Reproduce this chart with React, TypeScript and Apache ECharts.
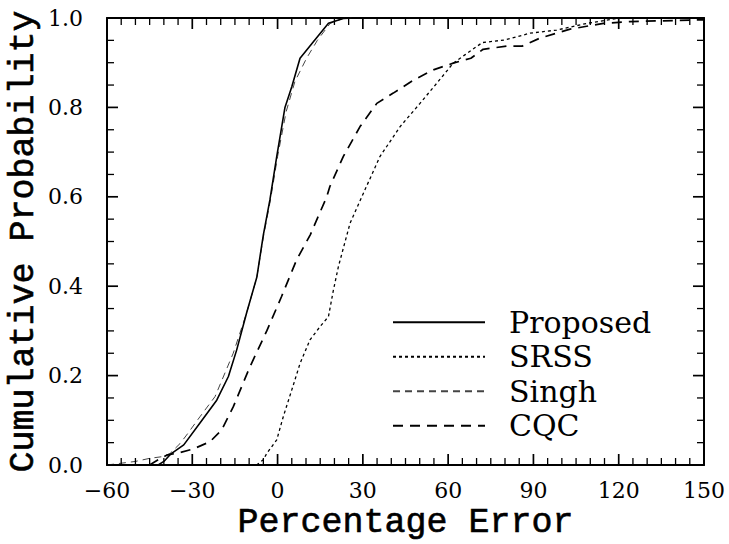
import React, { useEffect, useRef } from "react";
import * as echarts from "echarts";

// Percentage error (x) vs cumulative probability (y)
const proposed: [number, number][] = [
  [-42, 0], [-40, 0.008], [-37.5, 0.025], [-33, 0.045], [-27.3, 0.094], [-21.4, 0.145],
  [-17.3, 0.198], [-14.4, 0.257], [-10.9, 0.34], [-7.3, 0.42], [-5, 0.515], [-2.7, 0.593],
  [-0.3, 0.69], [2.6, 0.8], [5, 0.846], [7.9, 0.91], [12.6, 0.947], [17.9, 0.988],
  [23.1, 0.999], [27, 1.0],
];

const srss: [number, number][] = [
  [-7.4, 0], [-5, 0.012], [-3.8, 0.026], [-0.3, 0.056], [2, 0.108], [5, 0.168], [7.9, 0.227],
  [11.4, 0.28], [15, 0.31], [17.9, 0.332], [19.6, 0.39], [21.4, 0.444], [25.5, 0.541],
  [30.2, 0.608], [36, 0.69], [43.1, 0.757], [50.1, 0.809], [56, 0.854], [61.8, 0.899],
  [66, 0.918], [72, 0.945], [80, 0.951], [88.8, 0.966], [98.2, 0.973], [108.8, 0.988],
  [119.3, 0.999], [150, 1.0],
];

const singh: [number, number][] = [
  [-60, 0], [-50, 0.008], [-44.9, 0.015], [-40.2, 0.019], [-37.8, 0.026], [-34.3, 0.048],
  [-32, 0.067], [-27.3, 0.108], [-22, 0.153], [-15.6, 0.25], [-10.9, 0.34], [-7.3, 0.42],
  [-5, 0.51], [-2.5, 0.593], [0, 0.69], [3, 0.79], [6.1, 0.858], [10.2, 0.91], [14, 0.95],
  [18.5, 0.988], [23, 0.999], [26, 1.0],
];

const cqc: [number, number][] = [
  [-45, 0], [-42, 0.012], [-39, 0.022], [-34.3, 0.028], [-29.6, 0.036], [-23.8, 0.052],
  [-19.7, 0.078], [-15.6, 0.13], [-9.7, 0.22], [-3.8, 0.3], [1.4, 0.377], [6.7, 0.459],
  [11.5, 0.515], [17.3, 0.6], [18.4, 0.623], [23.1, 0.69], [29, 0.757], [34.9, 0.809],
  [40.7, 0.832], [47.8, 0.861], [54.8, 0.884], [61.8, 0.899], [68, 0.91], [72.3, 0.93],
  [80.5, 0.937], [86, 0.937], [92.3, 0.955], [102.9, 0.975], [114.6, 0.988], [124, 0.992],
  [150, 0.996],
];

const seriesNames = ["Proposed", "SRSS", "Singh", "CQC"];

// axis ticks
const xMajorTicks = [-60, -30, 0, 30, 60, 90, 120, 150];
const xMinorPerMajor = 6;
const yMajorTicks = [0, 0.2, 0.4, 0.6, 0.8, 1.0];
const yMinorPerMajor = 4;

const xRange = { min: -60, max: 150, interval: 30 };
const yRange = { min: 0, max: 1, interval: 0.2 };

export default function App() {
  const ref = useRef<HTMLDivElement>(null);

  useEffect(() => {
    const chart = echarts.init(ref.current!, null, { renderer: "svg" });
    const serif = "'DejaVu Serif', serif";
    const mono = "'Liberation Mono', monospace";
    const black = "#000";

    // Each tick mark is its own two-point line in data units (inside, on all four sides).
    // Tick length: major ~11px, minor ~7px; plot is ~597px wide for 210 units, ~447px tall for 1 unit.
    const xUnitsPerPx = (xRange.max - xRange.min) / 597;
    const yUnitsPerPx = (yRange.max - yRange.min) / 447;
    const tickSeries: any[] = [];
    const addTick = (a: number[], b: number[], major: boolean) =>
      tickSeries.push({
        type: "line",
        data: [a, b],
        symbol: "none",
        clip: false,
        z: 6,
        itemStyle: { color: black },
        lineStyle: { color: black, width: major ? 1.7 : 1.3, type: "solid" },
        tooltip: { show: false },
      });
    const eachTick = (majors: number[], per: number, fn: (v: number, major: boolean) => void) => {
      majors.forEach((m, i) => {
        fn(m, true);
        if (i < majors.length - 1) {
          const step = (majors[i + 1] - m) / per;
          for (let k = 1; k < per; k++) fn(m + step * k, false);
        }
      });
    };
    eachTick(xMajorTicks, xMinorPerMajor, (v, major) => {
      const len = (major ? 11 : 7) * yUnitsPerPx;
      addTick([v, yRange.min], [v, yRange.min + len], major);
      addTick([v, yRange.max], [v, yRange.max - len], major);
    });
    eachTick(yMajorTicks, yMinorPerMajor, (v, major) => {
      const len = (major ? 11 : 7) * xUnitsPerPx;
      addTick([xRange.min, v], [xRange.min + len, v], major);
      addTick([xRange.max, v], [xRange.max - len, v], major);
    });

    const lineAxis = { show: true, onZero: false, lineStyle: { color: black, width: 2 } };
    const titleStyle = {
      fontFamily: mono,
      fontSize: 35,
      color: black,
      textBorderColor: black,
      textBorderWidth: 0.6,
    };

    chart.setOption({
      animation: false,
      backgroundColor: "#fff",
      grid: {
        left: 107,
        top: 18,
        right: 25,
        bottom: 79,
        containLabel: false,
        outerBoundsMode: "none",
      },
      xAxis: [
        {
          type: "value",
          ...xRange,
          position: "bottom",
          axisLine: lineAxis,
          axisTick: { show: false },
          splitLine: { show: false },
          axisLabel: {
            fontFamily: serif,
            fontSize: 22,
            color: black,
            margin: 14,
            formatter: (v: number) => String(v).replace("-", "\u2212"),
          },
          name: "Percentage Error",
          nameLocation: "middle",
          nameGap: 40,
          nameMoveOverlap: false,
          nameTextStyle: titleStyle,
        },
        {
          type: "value",
          ...xRange,
          position: "top",
          axisLine: lineAxis,
          axisTick: { show: false },
          splitLine: { show: false },
          axisLabel: { show: false },
        },
      ],
      yAxis: [
        {
          type: "value",
          ...yRange,
          position: "left",
          axisLine: lineAxis,
          axisTick: { show: false },
          splitLine: { show: false },
          axisLabel: {
            fontFamily: serif,
            fontSize: 22,
            color: black,
            margin: 24,
            formatter: (v: number) => v.toFixed(1),
          },
          name: "Cumulative Probability",
          nameLocation: "middle",
          nameGap: 66,
          nameMoveOverlap: false,
          nameTextStyle: titleStyle,
        },
        {
          type: "value",
          ...yRange,
          position: "right",
          axisLine: lineAxis,
          axisTick: { show: false },
          splitLine: { show: false },
          axisLabel: { show: false },
        },
      ],
      legend: {
        orient: "vertical",
        left: 392,
        top: 305,
        itemWidth: 92,
        itemHeight: 14,
        itemGap: 0,
        padding: 0,
        data: seriesNames,
        itemStyle: { opacity: 0 },
        textStyle: {
          fontFamily: serif,
          fontSize: 30,
          color: black,
          lineHeight: 34.5,
          padding: [0, 0, 0, 19],
        },
      },
      series: [
        {
          name: seriesNames[0],
          type: "line",
          data: proposed,
          symbol: "none",
          itemStyle: { color: black },
          lineStyle: { color: black, width: 1.6, type: "solid" },
          z: 5,
        },
        {
          name: seriesNames[1],
          type: "line",
          data: srss,
          symbol: "none",
          itemStyle: { color: black },
          lineStyle: { color: black, width: 1.3, type: [3, 3] },
        },
        {
          name: seriesNames[2],
          type: "line",
          data: singh,
          symbol: "none",
          itemStyle: { color: "#444" },
          lineStyle: { color: "#444", width: 1, type: [7, 5] },
        },
        {
          name: seriesNames[3],
          type: "line",
          data: cqc,
          symbol: "none",
          itemStyle: { color: black },
          lineStyle: { color: black, width: 1.7, type: [10, 7] },
        },
        ...tickSeries,
      ],
    });

    return () => chart.dispose();
  }, []);

  return (
    <div
      ref={ref}
      style={{ position: "fixed", left: 0, top: 0, width: 729, height: 544, background: "#fff" }}
    />
  );
}
